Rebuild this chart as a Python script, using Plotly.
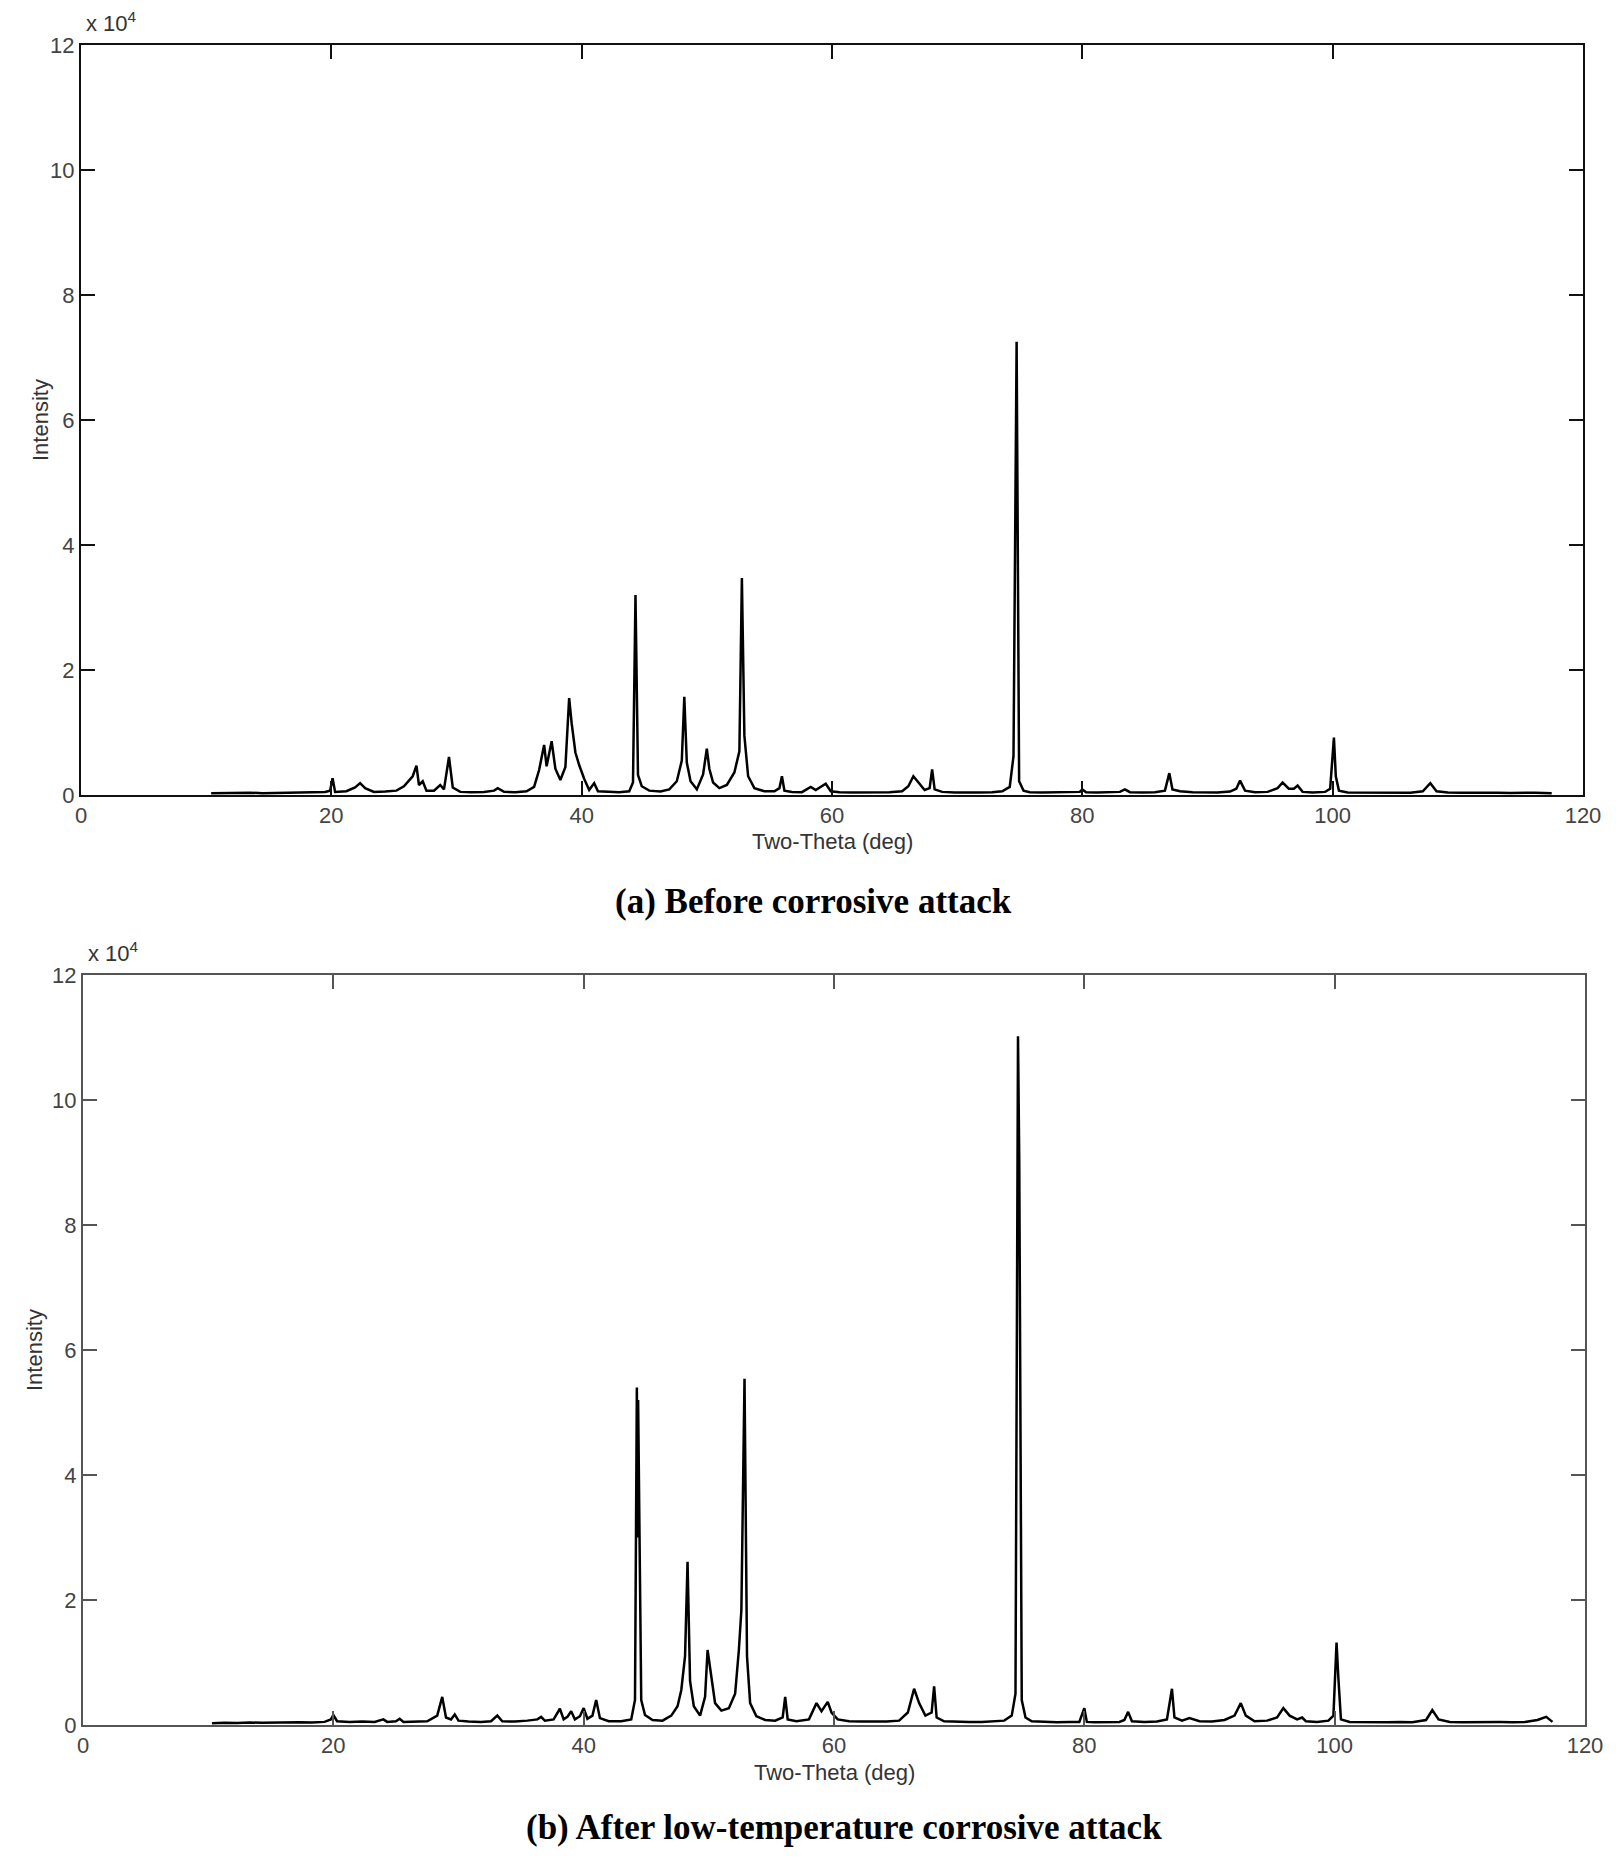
import plotly.graph_objects as go

# XRD scans, two-theta (deg) vs intensity (counts)
tth_a = [
    10.4, 11.5, 12.5, 13.5, 14.5, 15.5, 16.5, 17.5, 18.5, 19.5,
    19.9, 20.1, 20.3, 21.2, 21.9, 22.3, 22.7, 23.4, 24.3, 25.2,
    25.8, 26.2, 26.5, 26.8, 27.0, 27.3, 27.6, 28.2, 28.7, 29.0,
    29.4, 29.7, 30.3, 31.2, 32.2, 33.0, 33.3, 33.8, 34.7, 35.6,
    36.2, 36.6, 37.0, 37.2, 37.6, 37.9, 38.3, 38.7, 39.0, 39.2,
    39.5, 39.8, 40.2, 40.6, 41.0, 41.3, 42.0, 43.0, 43.8, 44.1,
    44.3, 44.5, 44.8, 45.4, 46.3, 47.0, 47.6, 48.0, 48.2, 48.4,
    48.7, 49.2, 49.7, 50.0, 50.2, 50.5, 51.0, 51.6, 52.2, 52.6,
    52.8, 53.0, 53.3, 53.8, 54.6, 55.4, 55.8, 56.0, 56.2, 56.8,
    57.6, 58.3, 58.7, 59.2, 59.5, 59.9, 60.6, 61.6, 62.6, 63.6,
    64.6, 65.6, 66.1, 66.5, 66.9, 67.4, 67.8, 68.0, 68.2, 68.8,
    69.8, 70.8, 71.8, 72.8, 73.6, 74.2, 74.5, 74.75, 74.95, 75.3,
    75.8, 76.8, 77.8, 78.8, 79.8, 80.0, 80.3, 81.2, 82.2, 83.0,
    83.4, 83.8, 84.8, 85.8, 86.6, 86.95, 87.2, 87.8, 88.8, 89.8,
    90.8, 91.8, 92.3, 92.6, 93.0, 93.8, 94.8, 95.6, 96.0, 96.5,
    96.9, 97.2, 97.6, 98.4, 99.4, 99.8, 100.1, 100.25, 100.5, 101.2,
    102.2, 103.2, 104.2, 105.2, 106.2, 107.2, 107.8, 108.3, 109.2, 110.2,
    111.2, 112.2, 113.2, 114.2, 115.2, 116.2, 117.5,
]
int_a = [
    300, 350, 280, 360, 300, 340, 380, 330, 420, 500,
    700, 2700, 500, 600, 1200, 1900, 1100, 500, 550, 700,
    1400, 2400, 3000, 4700, 1600, 2200, 700, 700, 1600, 900,
    6100, 1200, 500, 450, 500, 700, 1100, 500, 450, 600,
    1300, 4000, 8000, 4600, 8600, 4200, 2400, 4500, 15500, 11500,
    6800, 4800, 2600, 800, 1900, 600, 500, 450, 600, 2000,
    32000, 3200, 1400, 700, 550, 900, 2200, 5500, 15700, 5200,
    2200, 900, 3300, 7400, 4200, 2000, 1100, 1600, 3600, 7000,
    34700, 9500, 3000, 1100, 600, 600, 1100, 3000, 700, 500,
    450, 1300, 800, 1500, 1800, 600, 450, 400, 420, 380,
    450, 600, 1400, 3000, 2000, 800, 1100, 4100, 900, 500,
    420, 380, 420, 450, 600, 1300, 6200, 72500, 2200, 700,
    450, 400, 430, 400, 500, 900, 450, 420, 450, 500,
    900, 450, 400, 450, 700, 3500, 900, 600, 450, 400,
    420, 550, 1000, 2300, 700, 450, 500, 1100, 2000, 1000,
    1000, 1500, 500, 420, 500, 1000, 9200, 3000, 700, 420,
    400, 380, 420, 400, 380, 600, 1900, 600, 400, 380,
    400, 350, 380, 330, 360, 380, 300,
]

tth_b = [
    10.3, 11.3, 12.3, 13.3, 14.3, 15.3, 16.3, 17.3, 18.3, 19.3,
    19.8, 20.0, 20.3, 21.3, 22.3, 23.3, 24.0, 24.3, 25.0, 25.3,
    25.6, 26.5, 27.5, 28.3, 28.7, 29.0, 29.4, 29.7, 30.0, 30.8,
    31.8, 32.6, 33.1, 33.5, 34.5, 35.5, 36.3, 36.6, 36.9, 37.6,
    38.1, 38.4, 38.7, 39.0, 39.3, 39.7, 40.0, 40.3, 40.7, 41.0,
    41.3, 42.0, 43.0, 43.8, 44.1, 44.25, 44.3, 44.35, 44.6, 44.9,
    45.5, 46.3, 47.0, 47.5, 47.8, 48.1, 48.3, 48.5, 48.8, 49.3,
    49.7, 49.9, 50.2, 50.5, 51.0, 51.6, 52.1, 52.4, 52.6, 52.85,
    53.05, 53.3, 53.8, 54.5, 55.3, 55.9, 56.1, 56.3, 57.0, 58.0,
    58.6, 59.0, 59.5, 59.8, 60.3, 61.2, 62.2, 63.2, 64.2, 65.2,
    65.9, 66.4, 66.8, 67.3, 67.8, 68.0, 68.2, 68.8, 69.8, 70.8,
    71.8, 72.8, 73.6, 74.2, 74.5, 74.7, 74.8, 75.0, 75.3, 75.8,
    76.8, 77.8, 78.8, 79.6, 80.0, 80.2, 80.8, 81.8, 82.8, 83.2,
    83.5, 83.8, 84.8, 85.8, 86.6, 87.0, 87.2, 87.8, 88.4, 89.2,
    90.2, 91.2, 92.0, 92.5, 92.9, 93.6, 94.6, 95.4, 95.9, 96.4,
    97.0, 97.4, 97.7, 98.6, 99.5, 99.9, 100.15, 100.3, 100.5, 101.2,
    102.2, 103.2, 104.2, 105.2, 106.2, 107.3, 107.8, 108.3, 109.2, 110.2,
    111.2, 112.2, 113.2, 114.2, 115.2, 116.2, 116.9, 117.4,
]
int_b = [
    300, 380, 320, 400, 350, 420, 380, 450, 400, 500,
    900, 1600, 600, 500, 550, 500, 900, 500, 600, 1000,
    500, 550, 600, 1500, 4500, 1200, 900, 1700, 700, 550,
    500, 600, 1500, 600, 550, 700, 900, 1300, 700, 900,
    2600, 900, 1300, 2200, 900, 1400, 2700, 1000, 1500, 4000,
    1100, 600, 600, 900, 4000, 54000, 30000, 52000, 4000, 1600,
    800, 700, 1500, 3000, 5600, 11000, 26100, 7000, 3000, 1500,
    4500, 12000, 7700, 3500, 2300, 2700, 5000, 12000, 18400, 55400,
    11000, 3500, 1400, 800, 700, 1200, 4500, 900, 600, 900,
    3500, 2200, 3700, 2000, 900, 600, 550, 500, 550, 700,
    2000, 5800, 3500, 1500, 2000, 6200, 1200, 600, 500, 500,
    500, 550, 700, 1500, 5000, 110200, 90400, 4000, 1200, 600,
    500, 450, 500, 500, 2700, 500, 450, 450, 500, 800,
    2100, 600, 500, 550, 900, 5800, 1200, 700, 1100, 600,
    550, 800, 1500, 3500, 1500, 600, 700, 1200, 2700, 1500,
    900, 1200, 600, 500, 700, 1500, 13200, 7400, 900, 500,
    450, 500, 450, 480, 450, 800, 2400, 900, 500, 450,
    500, 450, 480, 450, 500, 800, 1300, 500,
]

y_ticks = [0, 20000, 40000, 60000, 80000, 100000, 120000]
y_tick_labels = ["0", "2", "4", "6", "8", "10", "12"]
x_ticks = [0, 20, 40, 60, 80, 100, 120]

W, H = 1616, 1867
OFF = 8  # page body margin


def px(x):
    return (x - OFF) / W


def py(y):
    return 1 - (y - OFF) / H


fig = go.Figure()
fig.add_trace(go.Scatter(x=tth_a, y=int_a, mode="lines", xaxis="x", yaxis="y",
                         line=dict(color="black", width=2.5), showlegend=False))
fig.add_trace(go.Scatter(x=tth_b, y=int_b, mode="lines", xaxis="x2", yaxis="y2",
                         line=dict(color="black", width=2.5), showlegend=False))

tick_font = dict(family="Liberation Sans, Arial", size=22, color="#444")


def xax(dom, anchor, col):
    return dict(domain=dom, anchor=anchor, range=[0, 120], tickvals=x_ticks,
                ticks="inside", ticklen=14, tickwidth=2, tickcolor=col,
                showline=True, linecolor=col, linewidth=2, mirror="ticks",
                showgrid=False, zeroline=False, tickfont=tick_font, automargin=False)


def yax(dom, anchor, col):
    return dict(domain=dom, anchor=anchor, range=[0, 120000], tickvals=y_ticks,
                ticktext=y_tick_labels, ticks="inside", ticklen=14, tickwidth=2,
                tickcolor=col, showline=True, linecolor=col, linewidth=2,
                mirror="ticks", showgrid=False, zeroline=False, tickfont=tick_font,
                automargin=False)


label_font = dict(family="Liberation Sans, Arial", size=22, color="#333")
cap_font = dict(family="Liberation Serif, Times New Roman", size=35, color="black")


def note(x, y, text, font, angle=0, xanchor="center"):
    return dict(x=px(x), y=py(y), xref="paper", yref="paper", text=text,
                textangle=angle, showarrow=False, xanchor=xanchor,
                yanchor="middle", font=font)


annotations = []
for (y_top, y_bot, x_left, ylab_x, cap_text, cap_x, cap_y, xlab_y) in [
    (45, 795, 81, 40, "<b>(a) Before corrosive attack</b>", 813, 902, 841),
    (975, 1725, 83, 34, "<b>(b) After low-temperature corrosive attack</b>", 844, 1827, 1772),
]:
    annotations += [
        note(x_left + 3, y_top - 23, "x 10<sup>4</sup>", label_font, xanchor="left"),
        note(ylab_x, (y_top + y_bot) / 2, "Intensity", label_font, angle=-90),
        note(x_left + 751, xlab_y, "Two-Theta (deg)", label_font),
        note(cap_x, cap_y, cap_text, cap_font),
    ]

fig.update_layout(
    width=W, height=H,
    margin=dict(l=0, r=0, t=0, b=0),
    paper_bgcolor="white", plot_bgcolor="white",
    xaxis=xax([px(81), px(1583)], "y", "#111"),
    yaxis=yax([py(795), py(45)], "x", "#111"),
    xaxis2=xax([px(83), px(1585)], "y2", "#555"),
    yaxis2=yax([py(1725), py(975)], "x2", "#555"),
    annotations=annotations,
)

fig.write_html("out.html")
